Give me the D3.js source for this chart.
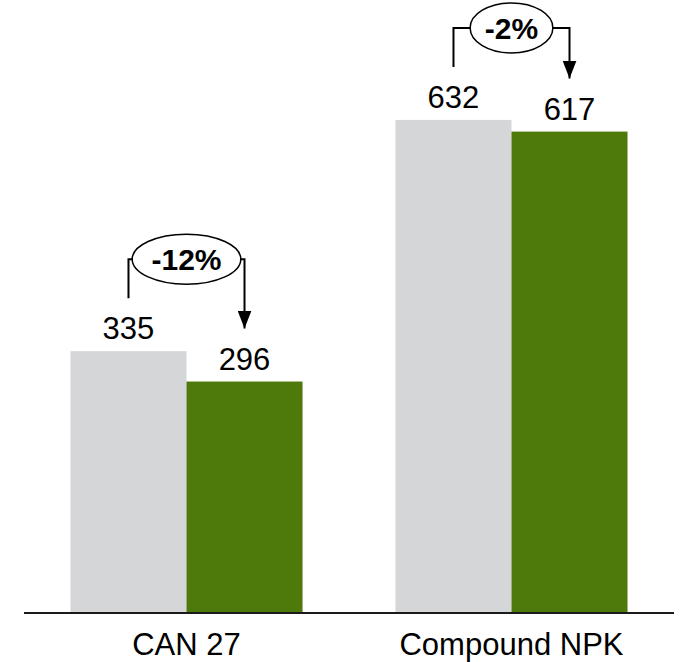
<!DOCTYPE html>
<html lang="en">
  <head>
    <meta charset="utf-8">
    <title>CAN 27 vs Compound NPK</title>
    <style>
body {
  margin: 0;
  background: #fff;
}
svg {
  font-family: "Liberation Sans", Arial, sans-serif;
  display: block;
}
.axis line {
  stroke: #1a1a1a;
  stroke-width: 2;
}
.bracket {
  fill: none;
  stroke: #000;
  stroke-width: 2;
}
    </style>
  </head>
  <body>
    <svg></svg>
    <script src="https://cdn.jsdelivr.net/npm/d3@7"></script>
    <script>

// values
const categories = ["CAN 27", "Compound NPK"];
const series = ["before", "after"];
const before = [335, 632];
const after = [296, 617];
const changes = ["-12%", "-2%"];

const width = 681,
      height = 662,
      baseline = 612;

const colors = {before: "#d5d6d8", after: "#4e790b"};

const svg = d3.select("svg")
    .attr("width", width)
    .attr("height", height);

const x = d3.scaleBand()
    .domain(categories)
    .range([24, 674])
    .paddingInner(0.286)
    .paddingOuter(0.143);

const xs = d3.scaleBand()
    .domain(series)
    .range([0, x.bandwidth()]);

const y = d3.scaleLinear()
    .domain([0, 786])
    .range([baseline, 0]);

const rows = categories.map(function(c, i) {
  return {cat: c, before: before[i], after: after[i], change: changes[i]};
});

// bars
const group = svg.selectAll(".group")
    .data(rows)
  .enter().append("g")
    .attr("class", "group")
    .attr("transform", function(d) { return "translate(" + x(d.cat) + ",0)"; });

group.selectAll("rect")
    .data(function(d) { return series.map(function(s) { return {key: s, value: d[s]}; }); })
  .enter().append("rect")
    .attr("x", function(d) { return xs(d.key); })
    .attr("y", function(d) { return y(d.value); })
    .attr("width", xs.bandwidth())
    .attr("height", function(d) { return baseline - y(d.value); })
    .attr("fill", function(d) { return colors[d.key]; });

// value labels
group.selectAll(".value")
    .data(function(d) { return series.map(function(s) { return {key: s, value: d[s]}; }); })
  .enter().append("text")
    .attr("class", "value")
    .attr("x", function(d) { return xs(d.key) + xs.bandwidth() / 2; })
    .attr("y", function(d) { return y(d.value) - 12; })
    .attr("text-anchor", "middle")
    .style("font-size", "31px")
    .attr("fill", "#000")
    .text(function(d) { return d.value; });

// bracket with arrow and change bubble
const defs = svg.append("defs");
defs.append("marker")
    .attr("id", "arrow")
    .attr("viewBox", "0 0 18 14")
    .attr("refX", 18)
    .attr("refY", 7)
    .attr("markerWidth", 18)
    .attr("markerHeight", 14)
    .attr("markerUnits", "userSpaceOnUse")
    .attr("orient", "auto")
  .append("path")
    .attr("d", "M0,0 L18,7 L0,14 Z")
    .attr("fill", "#000");

group.each(function(d) {
  const g = d3.select(this);
  const x0 = xs("before") + xs.bandwidth() / 2,
        x1 = xs("after") + xs.bandwidth() / 2,
        cx = (x0 + x1) / 2,
        level = y(Math.max(d.before, d.after)) - 92,
        start0 = y(d.before) - 53,
        start1 = y(d.after) - 53;

  const label = g.append("text")
      .attr("x", cx)
      .attr("y", level + 11)
      .attr("text-anchor", "middle")
      .style("font-size", "30px")
      .style("font-weight", "bold")
      .text(d.change);

  const tw = label.node().getComputedTextLength();
  const rx = tw / 2 * 1.55, ry = 25;

  g.append("path")
      .attr("class", "bracket")
      .attr("d", "M" + x0 + "," + start0 + " V" + level + " H" + (cx - rx));

  g.append("path")
      .attr("class", "bracket")
      .attr("marker-end", "url(#arrow)")
      .attr("d", "M" + (cx + rx) + "," + level + " H" + x1 + " V" + start1);

  g.insert("ellipse", "text:last-of-type")
      .attr("cx", cx)
      .attr("cy", level)
      .attr("rx", rx)
      .attr("ry", ry)
      .attr("fill", "#fff")
      .attr("stroke", "#000")
      .attr("stroke-width", 1.5);

  label.raise();
});

// axis
const axis = svg.append("g")
    .attr("class", "axis");

axis.append("line")
    .attr("x1", 24)
    .attr("x2", 674)
    .attr("y1", baseline + 1)
    .attr("y2", baseline + 1);

axis.selectAll(".cat")
    .data(categories)
  .enter().append("text")
    .attr("class", "cat")
    .attr("x", function(d) { return x(d) + x.bandwidth() / 2; })
    .attr("y", 655)
    .attr("text-anchor", "middle")
    .style("font-size", "31px")
    .attr("fill", "#000")
    .text(function(d) { return d; });

    </script>
  </body>
</html>
